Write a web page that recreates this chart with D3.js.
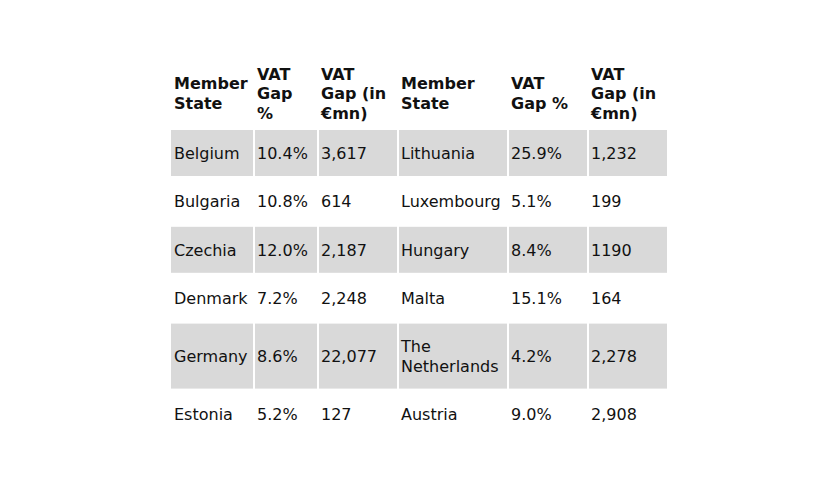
<!DOCTYPE html><html><head><meta charset="utf-8"><script src="https://cdn.jsdelivr.net/npm/d3@7"></script>
<style>body{margin:0;background:#fff}text{font-family:"DejaVu Sans",Verdana,sans-serif;font-size:16px;fill:#111}</style></head><body>
<script>
const headers=[["Member","State"],["VAT","Gap","%"],["VAT","Gap (in","€mn)"],["Member","State"],["VAT","Gap %"],["VAT","Gap (in","€mn)"]];
const statesLeft=["Belgium","Bulgaria","Czechia","Denmark","Germany","Estonia"];
const gapPctLeft=["10.4%","10.8%","12.0%","7.2%","8.6%","5.2%"];
const gapMnLeft=["3,617","614","2,187","2,248","22,077","127"];
const statesRight=[["Lithuania"],["Luxembourg"],["Hungary"],["Malta"],["The","Netherlands"],["Austria"]];
const gapPctRight=["25.9%","5.1%","8.4%","15.1%","4.2%","9.0%"];
const gapMnRight=["1,232","199","1190","164","2,278","2,908"];
const colEdges=[171,254,318,398,508,588,668];
const svg=d3.select("body").append("svg").attr("width",840).attr("height",480);
const lh=19.5;
// header
headers.forEach((h,i)=>{const cy=93;const y0=cy-(h.length-1)*lh/2+6;
 const t=svg.append("text").attr("x",colEdges[i]+3).style("font-weight","bold");
 h.forEach((l,j)=>t.append("tspan").attr("x",colEdges[i]+3).attr("y",y0+j*lh).text(l));});
const rows=statesLeft.map((s,i)=>[[s],[gapPctLeft[i]],[gapMnLeft[i]],statesRight[i],[gapPctRight[i]],[gapMnRight[i]]]);
let y=130;
rows.forEach((r,i)=>{const n=d3.max(r,c=>c.length);const h=46+(n-1)*19;
 r.forEach((c,j)=>{
  if(i%2==0)svg.append("rect").attr("x",colEdges[j]+(j?1:0)).attr("y",y).attr("width",colEdges[j+1]-colEdges[j]-(j?1:0)-1).attr("height",h).attr("fill","#d9d9d9");
  const cy=y+h/2;const y0=cy-(c.length-1)*lh/2+6;
  const t=svg.append("text");
  c.forEach((l,k)=>t.append("tspan").attr("x",colEdges[j]+3).attr("y",y0+k*lh).text(l));
 });
 y+=h+2.4;});
</script></body></html>
